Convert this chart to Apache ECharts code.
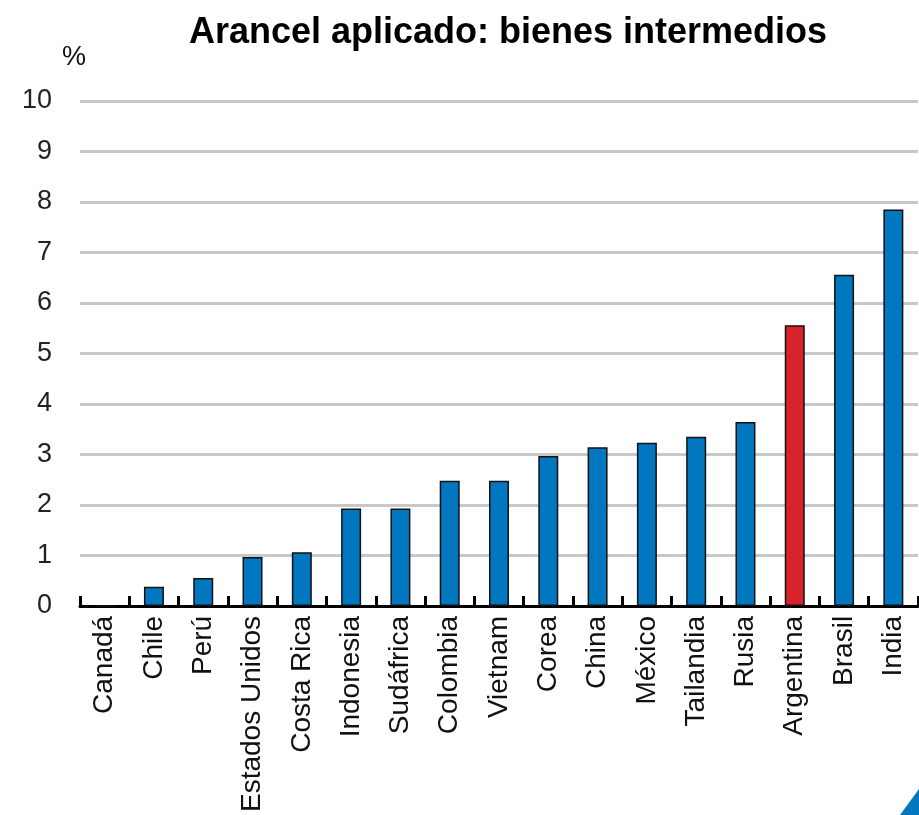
<!DOCTYPE html>
<html>
<head>
<meta charset="utf-8">
<script src="https://cdn.jsdelivr.net/npm/echarts@6/dist/echarts.min.js"></script>
<style>
  html, body { margin: 0; padding: 0; background: #fff; }
  #chart { width: 919px; height: 815px; }
</style>
</head>
<body>
<div id="chart"></div>
<script>
var categories = ['Canadá','Chile','Perú','Estados Unidos','Costa Rica','Indonesia','Sudáfrica','Colombia','Vietnam','Corea','China','México','Tailandia','Rusia','Argentina','Brasil','India'];
var values = [0, 0.38, 0.55, 0.97, 1.06, 1.93, 1.93, 2.48, 2.48, 2.97, 3.14, 3.23, 3.35, 3.64, 5.56, 6.56, 7.85];
var highlight = 'Argentina';
var yTicks = [0, 1, 2, 3, 4, 5, 6, 7, 8, 9, 10];

var FONT = '"Liberation Sans Narrow", "Liberation Sans", Arial, sans-serif';
var myChart = echarts.init(document.getElementById('chart'));

var barData = values.map(function (v, i) {
    return {
        value: v,
        itemStyle: { color: categories[i] === highlight ? '#D9232A' : '#0077BF' }
    };
});

var option = {
    animation: false,
    backgroundColor: '#ffffff',
    title: {
        text: 'Arancel aplicado: bienes intermedios',
        left: 503,
        textAlign: 'center',
        top: 10,
        textStyle: {
            fontFamily: FONT,
            fontWeight: 'bold',
            fontSize: 36,
            color: '#000'
        }
    },
    grid: {
        left: 80,
        right: 1,
        top: 101,
        bottom: 209,
        containLabel: false
    },
    xAxis: {
        type: 'category',
        data: categories,
        axisLine: { show: true, lineStyle: { color: '#000', width: 3 } },
        axisTick: {
            show: true,
            inside: true,
            alignWithLabel: false,
            interval: 0,
            length: 10,
            lineStyle: { color: '#000', width: 3 }
        },
        axisLabel: {
            rotate: 90,
            interval: 0,
            margin: 10,
            fontFamily: FONT,
            fontSize: 28,
            color: '#111'
        }
    },
    yAxis: {
        type: 'value',
        min: yTicks[0],
        max: yTicks[yTicks.length - 1],
        interval: 1,
        name: '%',
        nameLocation: 'end',
        nameGap: 30,
        nameTextStyle: {
            fontFamily: FONT,
            fontSize: 27,
            color: '#111',
            align: 'right',
            padding: [0, -6, 0, 0]
        },
        axisLine: { show: false },
        axisTick: { show: false },
        axisLabel: {
            margin: 28,
            fontFamily: FONT,
            fontSize: 27,
            color: '#222'
        },
        splitLine: { lineStyle: { color: '#c8c8c8', width: 3 } }
    },
    series: [
        {
            type: 'bar',
            data: barData,
            barWidth: 20,
            itemStyle: { borderColor: '#111', borderWidth: 1.5 }
        }
    ],
    graphic: [
        {
            type: 'polygon',
            right: 0,
            bottom: 0,
            shape: { points: [[0, 26], [19, 0], [19, 26]] },
            style: { fill: '#0077BF' }
        }
    ]
};

myChart.setOption(option);
</script>
</body>
</html>
